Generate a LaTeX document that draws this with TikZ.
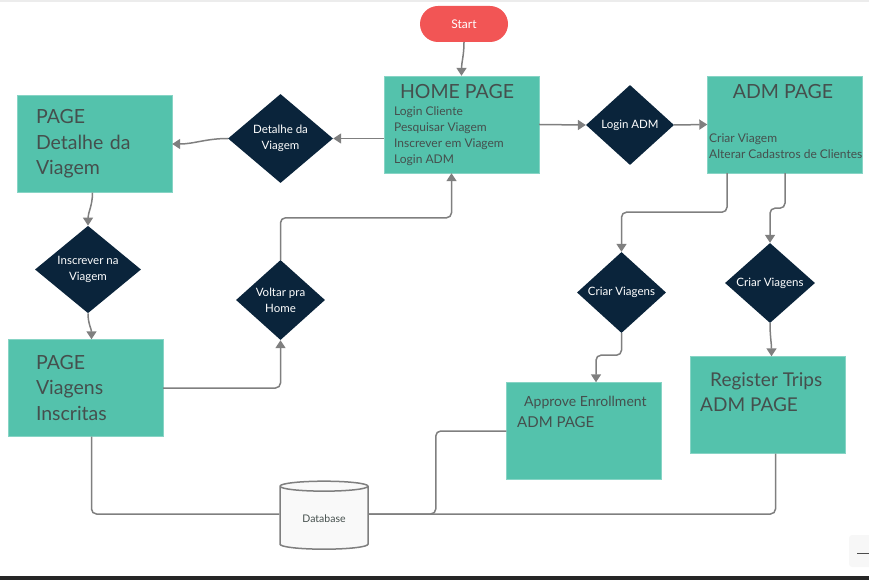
\documentclass[tikz,border=0pt]{standalone}
\usepackage{fontspec}
\setmainfont{Lato}
\usetikzlibrary{arrows.meta,shapes.geometric}
\definecolor{pageteal}{HTML}{54C2AC}
\definecolor{decisionblue}{HTML}{0A243B}
\definecolor{startred}{HTML}{F25555}
\definecolor{linkgray}{HTML}{7F7F7F}
\definecolor{pagetext}{HTML}{454F4D}
\begin{document}
\begin{tikzpicture}[x=1pt,y=-1pt,>={Triangle[length=8pt,width=10pt]},
  page node/.style={rectangle,fill=pageteal,draw=pageteal!70!white,minimum width=155pt,minimum height=97pt,inner sep=0pt},
  page label/.style={text=pagetext,anchor=west,inner sep=0pt,align=left},
  decision node/.style={diamond,fill=decisionblue,text=white,align=center,inner sep=0pt,font=\fontsize{11.5}{16}\selectfont},
  link/.style={draw=linkgray,line width=1.5pt,rounded corners=5pt}]

  \useasboundingbox (0,0) rectangle (869,580);
  \fill[gray!15] (0,0) rectangle (869,2);
  \fill[black!85] (0,576) rectangle (869,580);

  % nodes
  \node[rectangle,rounded corners=18pt,fill=startred,text=white,minimum width=88pt,minimum height=36pt,font=\fontsize{12}{14}\selectfont] (start) at (464,24) {\raisebox{-2pt}{Start}};
  \node[page node] (home) at (461.5,124.5) {};
  \node[page node] (adm) at (785,124.5) {};
  \node[page node,text=pagetext,align=left,text width=117pt,inner xsep=19pt,font=\fontsize{19.5}{25.5}\selectfont] (detalhe) at (94.5,144) {PAGE\\Detalhe da\\Viagem};
  \node[page node,text=pagetext,align=left,text width=99pt,inner xsep=28pt,font=\fontsize{19.5}{25.5}\selectfont] (inscritas) at (85.5,388) {PAGE\\Viagens\\Inscritas};
  \node[page node] (approve) at (584,431) {};
  \node[page node] (register) at (767.5,405) {};

  \node[decision node,minimum width=105pt,minimum height=89pt] (dd) at (280.5,138.5) {Detalhe da\\Viagem};
  \node[decision node,minimum width=106pt,minimum height=87pt] (dins) at (88,269.5) {Inscrever na\\Viagem};
  \node[decision node,minimum width=89pt,minimum height=80pt] (voltar) at (280.5,300) {Voltar pra\\Home};
  \node[decision node,minimum width=88pt,minimum height=80pt] (login) at (630,125) {Login ADM};
  \node[decision node,minimum width=89pt,minimum height=81pt] (criar1) at (621.5,292.5) {Criar Viagens};
  \node[decision node,minimum width=90pt,minimum height=80pt] (criar2) at (770,283) {Criar Viagens};

  \node[cylinder,shape border rotate=90,aspect=0.2,draw=linkgray,fill=gray!5,line width=1.5pt,
    minimum width=88pt,minimum height=68pt,text=pagetext,font=\fontsize{10.5}{12}\selectfont] (db) at (324,519) {\raisebox{-3pt}{Database}};

  % texts inside the pages
  \node[page label,anchor=center,font=\fontsize{19.5}{22}\selectfont] (hometitle) at (457,92) {HOME PAGE};
  \node[page label,anchor=north west,font=\fontsize{12}{16}\selectfont] (homelist) at (394,106) {Login Cliente\\Pesquisar Viagem\\Inscrever em Viagem\\Login ADM};
  \node[page label,anchor=center,font=\fontsize{19.5}{22}\selectfont] (admtitle) at (783,92) {ADM PAGE};
  \node[page label,anchor=north west,font=\fontsize{12}{16}\selectfont] (admlist) at (709,134) {Criar Viagem\\Alterar Cadastros de Clientes};
  \node[page label,font=\fontsize{14}{16}\selectfont] (approvetitle) at (524,403) {Approve Enrollment};
  \node[page label,font=\fontsize{15}{17}\selectfont] (approvesub) at (517,422) {ADM PAGE};
  \node[page label,font=\fontsize{19}{22}\selectfont] (registertitle) at (710,381) {Register Trips};
  \node[page label,font=\fontsize{19}{22}\selectfont] (registersub) at (700,405) {ADM PAGE};

  % connectors
  \draw[link,->] (start.south) to[out=-90,in=90] (home.north);
  \draw[link,->] (dd.east -| home.west) to[out=180,in=0] (dd.east);
  \draw[link,->] (dd.west) to[out=180,in=0] (detalhe.east);
  \draw[link,->] ([xshift=-2pt]detalhe.south) to[out=-90,in=90] (dins.north);
  \draw[link,->] (dins.south) to[out=-90,in=90] ([xshift=6pt]inscritas.north);
  \draw[link,->] (inscritas.east) -| (voltar.south);
  \draw[link,->] (voltar.north) -- ++(0,-42) -| ([xshift=-10pt]home.south);
  \draw[link,->] (home.east) to[out=0,in=180] (login.west);
  \draw[link,->] (login.east) -- (adm.west);
  \draw[link,->] ([xshift=-58pt]adm.south) -- ++(0,39) -| (criar1.north);
  \draw[link,->] (adm.south) -- ++(0,35) -| (criar2.north);
  \draw[link,->] (criar1.south) -- ++(0,22) -| ([xshift=12pt]approve.north);
  \draw[link,->] (criar2.south) to[out=-90,in=90] ([xshift=4pt]register.north);

  \draw[link] ([xshift=6pt]inscritas.south) |- ([yshift=5pt]db.west);
  \draw[link] ([yshift=5pt]db.east) -- ++(67,0) |- (approve.west);
  \draw[link] ([xshift=8pt]register.south) |- ([yshift=5pt]db.east);

  % zoom button
  \fill[gray!6,rounded corners=3pt] (849,535) rectangle (875,567);
  \draw[black!70,line width=1pt] (857,553) -- (869,553);
\end{tikzpicture}
\end{document}
